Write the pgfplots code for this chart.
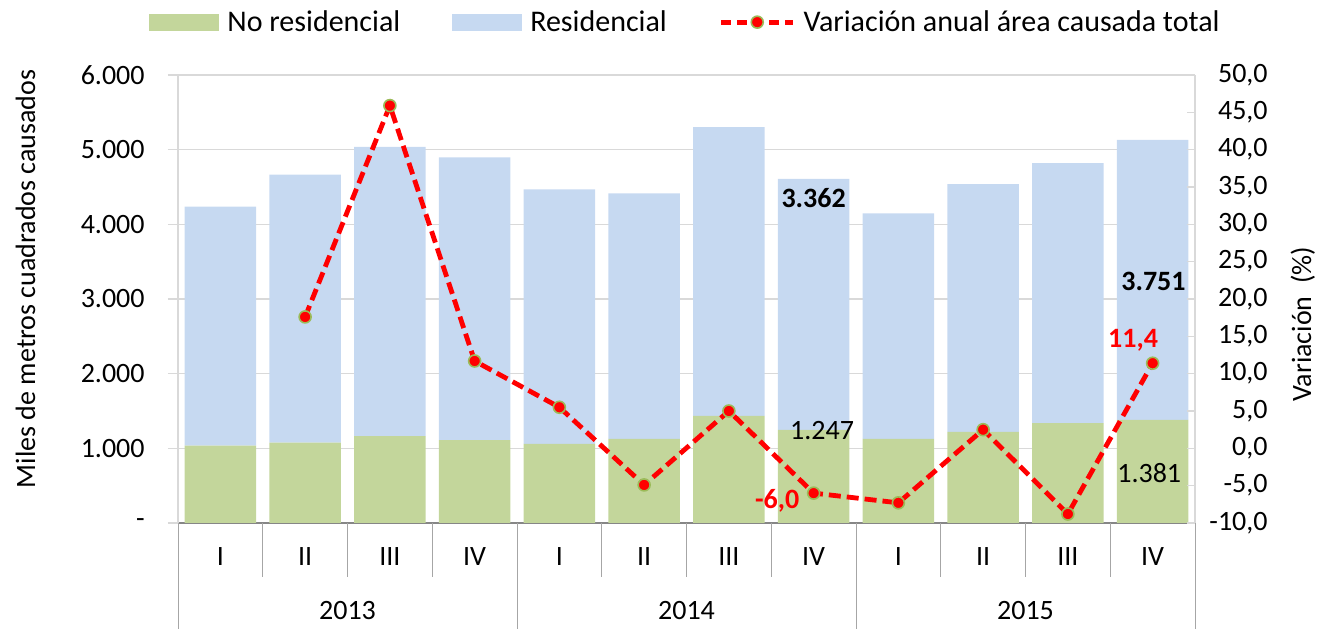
\documentclass[border=0pt]{standalone}
\usepackage{fontspec}
\setmainfont{Carlito}
\usepackage{pgfplots}
\pgfplotsset{compat=1.18}
\definecolor{gNR}{RGB}{195,214,155}
\definecolor{bR}{RGB}{198,217,241}
\definecolor{mk}{RGB}{155,187,89}
\definecolor{gridc}{RGB}{217,217,217}
\definecolor{axc}{RGB}{134,134,134}
\definecolor{sepc}{RGB}{166,166,166}
\newcommand\fs{\fontsize{14}{16}\selectfont}
\newcommand\fl{\fontsize{15}{17}\selectfont}
\pgfplotsset{
  greenleg/.style={legend image code/.code={\fill[gNR] (0pt,-4.2pt) rectangle (35pt,4.2pt);}},
  blueleg/.style={legend image code/.code={\fill[bR] (0pt,-4.2pt) rectangle (35pt,4.2pt);}},
  lineleg/.style={legend image code/.code={%
    \draw[red, line width=2.4pt, dash pattern=on 5pt off 3pt] (0pt,0pt) -- (36pt,0pt);
    \fill[red, draw=mk, line width=0.8pt] (18pt,0pt) circle (3pt);}},
  varline/.style={red, line width=2.4pt, dash pattern=on 6pt off 3pt, mark=*, mark size=3pt,
    mark options={solid, fill=red, draw=mk, line width=0.8pt}},
}
\begin{document}
\begin{tikzpicture}
\begin{axis}[name=ax, scale only axis, width=508.5pt, height=224pt,
  xmin=-0.5, xmax=11.5, ymin=0, ymax=6000,
  ybar stacked, bar width=35.7pt,
  axis y line*=left, axis x line*=bottom,
  y axis line style={draw=gridc, line width=0.8pt, -},
  x axis line style={draw=axc, line width=0.8pt, -},
  xtick={0,...,11},
  xticklabels={I,II,III,IV,I,II,III,IV,I,II,III,IV},
  xticklabel style={anchor=center, inner sep=0pt, yshift=-17pt, font=\fs},
  xtick style={draw=none},
  ytick={0,1000,...,6000},
  yticklabels={{-\hspace{6pt}},1.000,2.000,3.000,4.000,5.000,6.000},
  ytick style={draw=gridc, line width=0.8pt}, ytick align=outside, major tick length=5pt,
  yticklabel style={anchor=east, inner sep=0pt, xshift=-11.5pt, font=\fs},
  ymajorgrids, grid style={draw=gridc, line width=0.8pt},
  ylabel={Miles de metros cuadrados causados},
  ylabel style={at={(axis description cs:-0.150,0.545)}, anchor=center, font=\fs},
  legend style={draw=none, fill=none, at={(0.5,1.118)}, anchor=center,
    legend columns=3, font=\fl, legend cell align=left,
    /tikz/every odd column/.append style={column sep=2pt},
    /tikz/every even column/.append style={column sep=24pt}},
  clip=false,
]
\addplot[fill=gNR, draw=none, greenleg]
  coordinates {(0,1035) (1,1075) (2,1165) (3,1111) (4,1058) (5,1125) (6,1433) (7,1247) (8,1125) (9,1219) (10,1339) (11,1381)};
\addlegendentry{No residencial}
\addplot[fill=bR, draw=none, blueleg]
  coordinates {(0,3201) (1,3590) (2,3871) (3,3786) (4,3411) (5,3290) (6,3870) (7,3362) (8,3022) (9,3321) (10,3482) (11,3751)};
\addlegendentry{Residencial}
\addlegendimage{lineleg}
\addlegendentry{Variación anual área causada total}
\end{axis}
\begin{axis}[scale only axis, width=508.5pt, height=224pt,
  xmin=-0.5, xmax=11.5, ymin=-10, ymax=50,
  axis y line*=right, axis x line=none,
  y axis line style={draw=gridc, line width=0.8pt, -},
  ytick={-10,-5,...,50},
  yticklabels={{-10,0},{-5,0},{0,0},{5,0},{10,0},{15,0},{20,0},{25,0},{30,0},{35,0},{40,0},{45,0},{50,0}},
  ytick style={draw=gridc, line width=0.8pt}, tick align=inside, major tick length=4pt,
  yticklabel style={anchor=east, inner sep=0pt, xshift=36.5pt, font=\fs},
  ylabel={Variación\ \ (\%)},
  ylabel style={at={(axis description cs:1.106,0.444)}, anchor=center, font=\fs},
  clip=false,
]
% separators
\draw[sepc] (axis cs:-0.5,-10) -- ++(0pt,-53pt);
\draw[sepc] (axis cs:3.5,-10) -- ++(0pt,-53pt);
\draw[sepc] (axis cs:7.5,-10) -- ++(0pt,-53pt);
\draw[sepc] (axis cs:11.5,-10) -- ++(0pt,-53pt);
\draw[sepc] (axis cs:0.5,-10) -- ++(0pt,-27pt);
\draw[sepc] (axis cs:1.5,-10) -- ++(0pt,-27pt);
\draw[sepc] (axis cs:2.5,-10) -- ++(0pt,-27pt);
\draw[sepc] (axis cs:4.5,-10) -- ++(0pt,-27pt);
\draw[sepc] (axis cs:5.5,-10) -- ++(0pt,-27pt);
\draw[sepc] (axis cs:6.5,-10) -- ++(0pt,-27pt);
\draw[sepc] (axis cs:8.5,-10) -- ++(0pt,-27pt);
\draw[sepc] (axis cs:9.5,-10) -- ++(0pt,-27pt);
\draw[sepc] (axis cs:10.5,-10) -- ++(0pt,-27pt);
\node[font=\fs, yshift=-44pt] at (axis cs:1.5,-10) {2013};
\node[font=\fs, yshift=-44pt] at (axis cs:5.5,-10) {2014};
\node[font=\fs, yshift=-44pt] at (axis cs:9.5,-10) {2015};
% data labels
\node[font=\fs\bfseries] at (axis cs:7.0,33.53) {3.362};
\node[font=\fs] at (axis cs:7.1,2.36) {1.247};
\node[font=\fs\bfseries] at (axis cs:11.01,22.32) {3.751};
\node[font=\fs] at (axis cs:10.96,-3.26) {1.381};
\node[font=\fs\bfseries, text=red] at (axis cs:10.77,14.51) {11,4};
\node[font=\fs\bfseries, text=red] at (axis cs:6.57,-7.01) {-6,0};
\addplot[varline]
  coordinates {(1,17.6) (2,45.9) (3,11.7) (4,5.5) (5,-4.9) (6,5.0) (7,-6.0) (8,-7.3) (9,2.5) (10,-8.8) (11,11.4)};
\end{axis}
\pgfresetboundingbox
\path[use as bounding box] ([xshift=-89pt,yshift=-53pt]ax.south west) rectangle ([xshift=68.5pt,yshift=37.5pt]ax.north east);
\end{tikzpicture}
\end{document}
